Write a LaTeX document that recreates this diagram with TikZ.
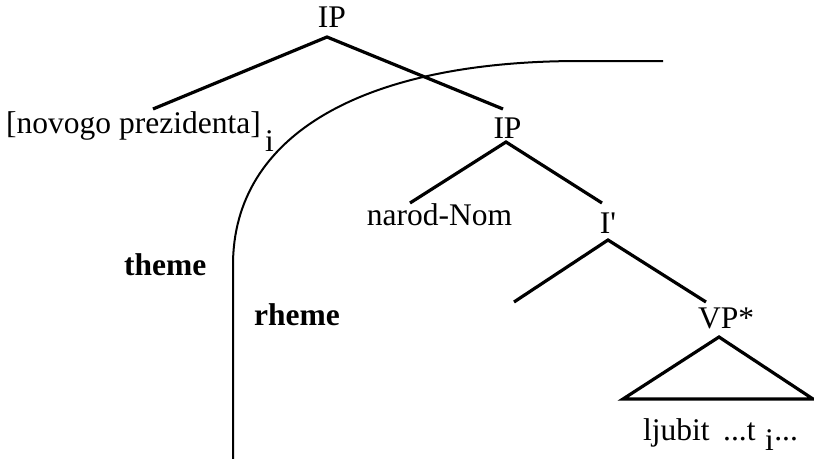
\documentclass[tikz,border=0pt]{standalone}
\usepackage{fontspec}
\setmainfont{Liberation Serif}
\begin{document}
\begin{tikzpicture}[x=1pt,y=-1pt,
  treeline/.style={line width=3.2pt},
  divline/.style={line width=2pt},
  lbl/.style={inner sep=0pt, font=\fontsize{31.5}{36}\selectfont},
  blbl/.style={lbl, font=\fontsize{31.5}{36}\selectfont\bfseries}]
\useasboundingbox (0,0) rectangle (814,458);
% labels
\node[lbl, anchor=base] (ipA) at (332,27) {IP};
\node[lbl, anchor=base west] (np) at (6,133) {[novogo prezidenta]};
\node[lbl, anchor=base west] (npi) at (265,151) {i};
\node[lbl, anchor=base] (ipB) at (507.5,138) {IP};
\node[lbl, anchor=base] (nom) at (439.5,225) {narod-Nom};
\node[lbl, anchor=base] (ibar) at (608,233) {I\textquotesingle};
\node[lbl, anchor=base west] (vp) at (698,328) {VP*};
\node[lbl, anchor=base west] (lja) at (643,440) {ljubit};
\node[lbl, anchor=base west] (ljb) at (723,440) {...t};
\node[lbl, anchor=base west] (ljc) at (765,450) {i};
\node[lbl, anchor=base west] (ljd) at (ljc.base east) {\raisebox{10pt}{...}};
\node[blbl, anchor=base west] (theme) at (124,275) {theme};
\node[blbl, anchor=base west] (rheme) at (254,325) {rheme};
% connector points
\coordinate (ipAb) at (327,37);
\coordinate (npt) at (153,109);
\coordinate (ipBt) at (503,109);
\coordinate (ipBb) at (506,142);
\coordinate (nomt) at (410,203);
\coordinate (ibart) at (602,203);
\coordinate (ibarb) at (608,240);
\coordinate (emptyt) at (514,302);
\coordinate (vpt) at (706,302);
\coordinate (vpb) at (719,337);
\coordinate (triL) at (623,399);
\coordinate (triR) at (813,399);
% tree
\draw[treeline] (npt) -- (ipAb) -- (ipBt);
\draw[treeline] (nomt) -- (ipBb) -- (ibart);
\draw[treeline] (emptyt) -- (ibarb) -- (vpt);
\draw[treeline, line join=miter] (triL) -- (vpb) -- (triR) -- cycle;
% theme / rheme divider
\coordinate (divbot) at (233,460);
\coordinate (divbend) at (233,265);
\coordinate (divtop) at (580,61);
\coordinate (divend) at (663,61);
\draw[divline] (divbot) -- (divbend) .. controls (233,136) and (361,61) .. (divtop) -- (divend);
\end{tikzpicture}
\end{document}
